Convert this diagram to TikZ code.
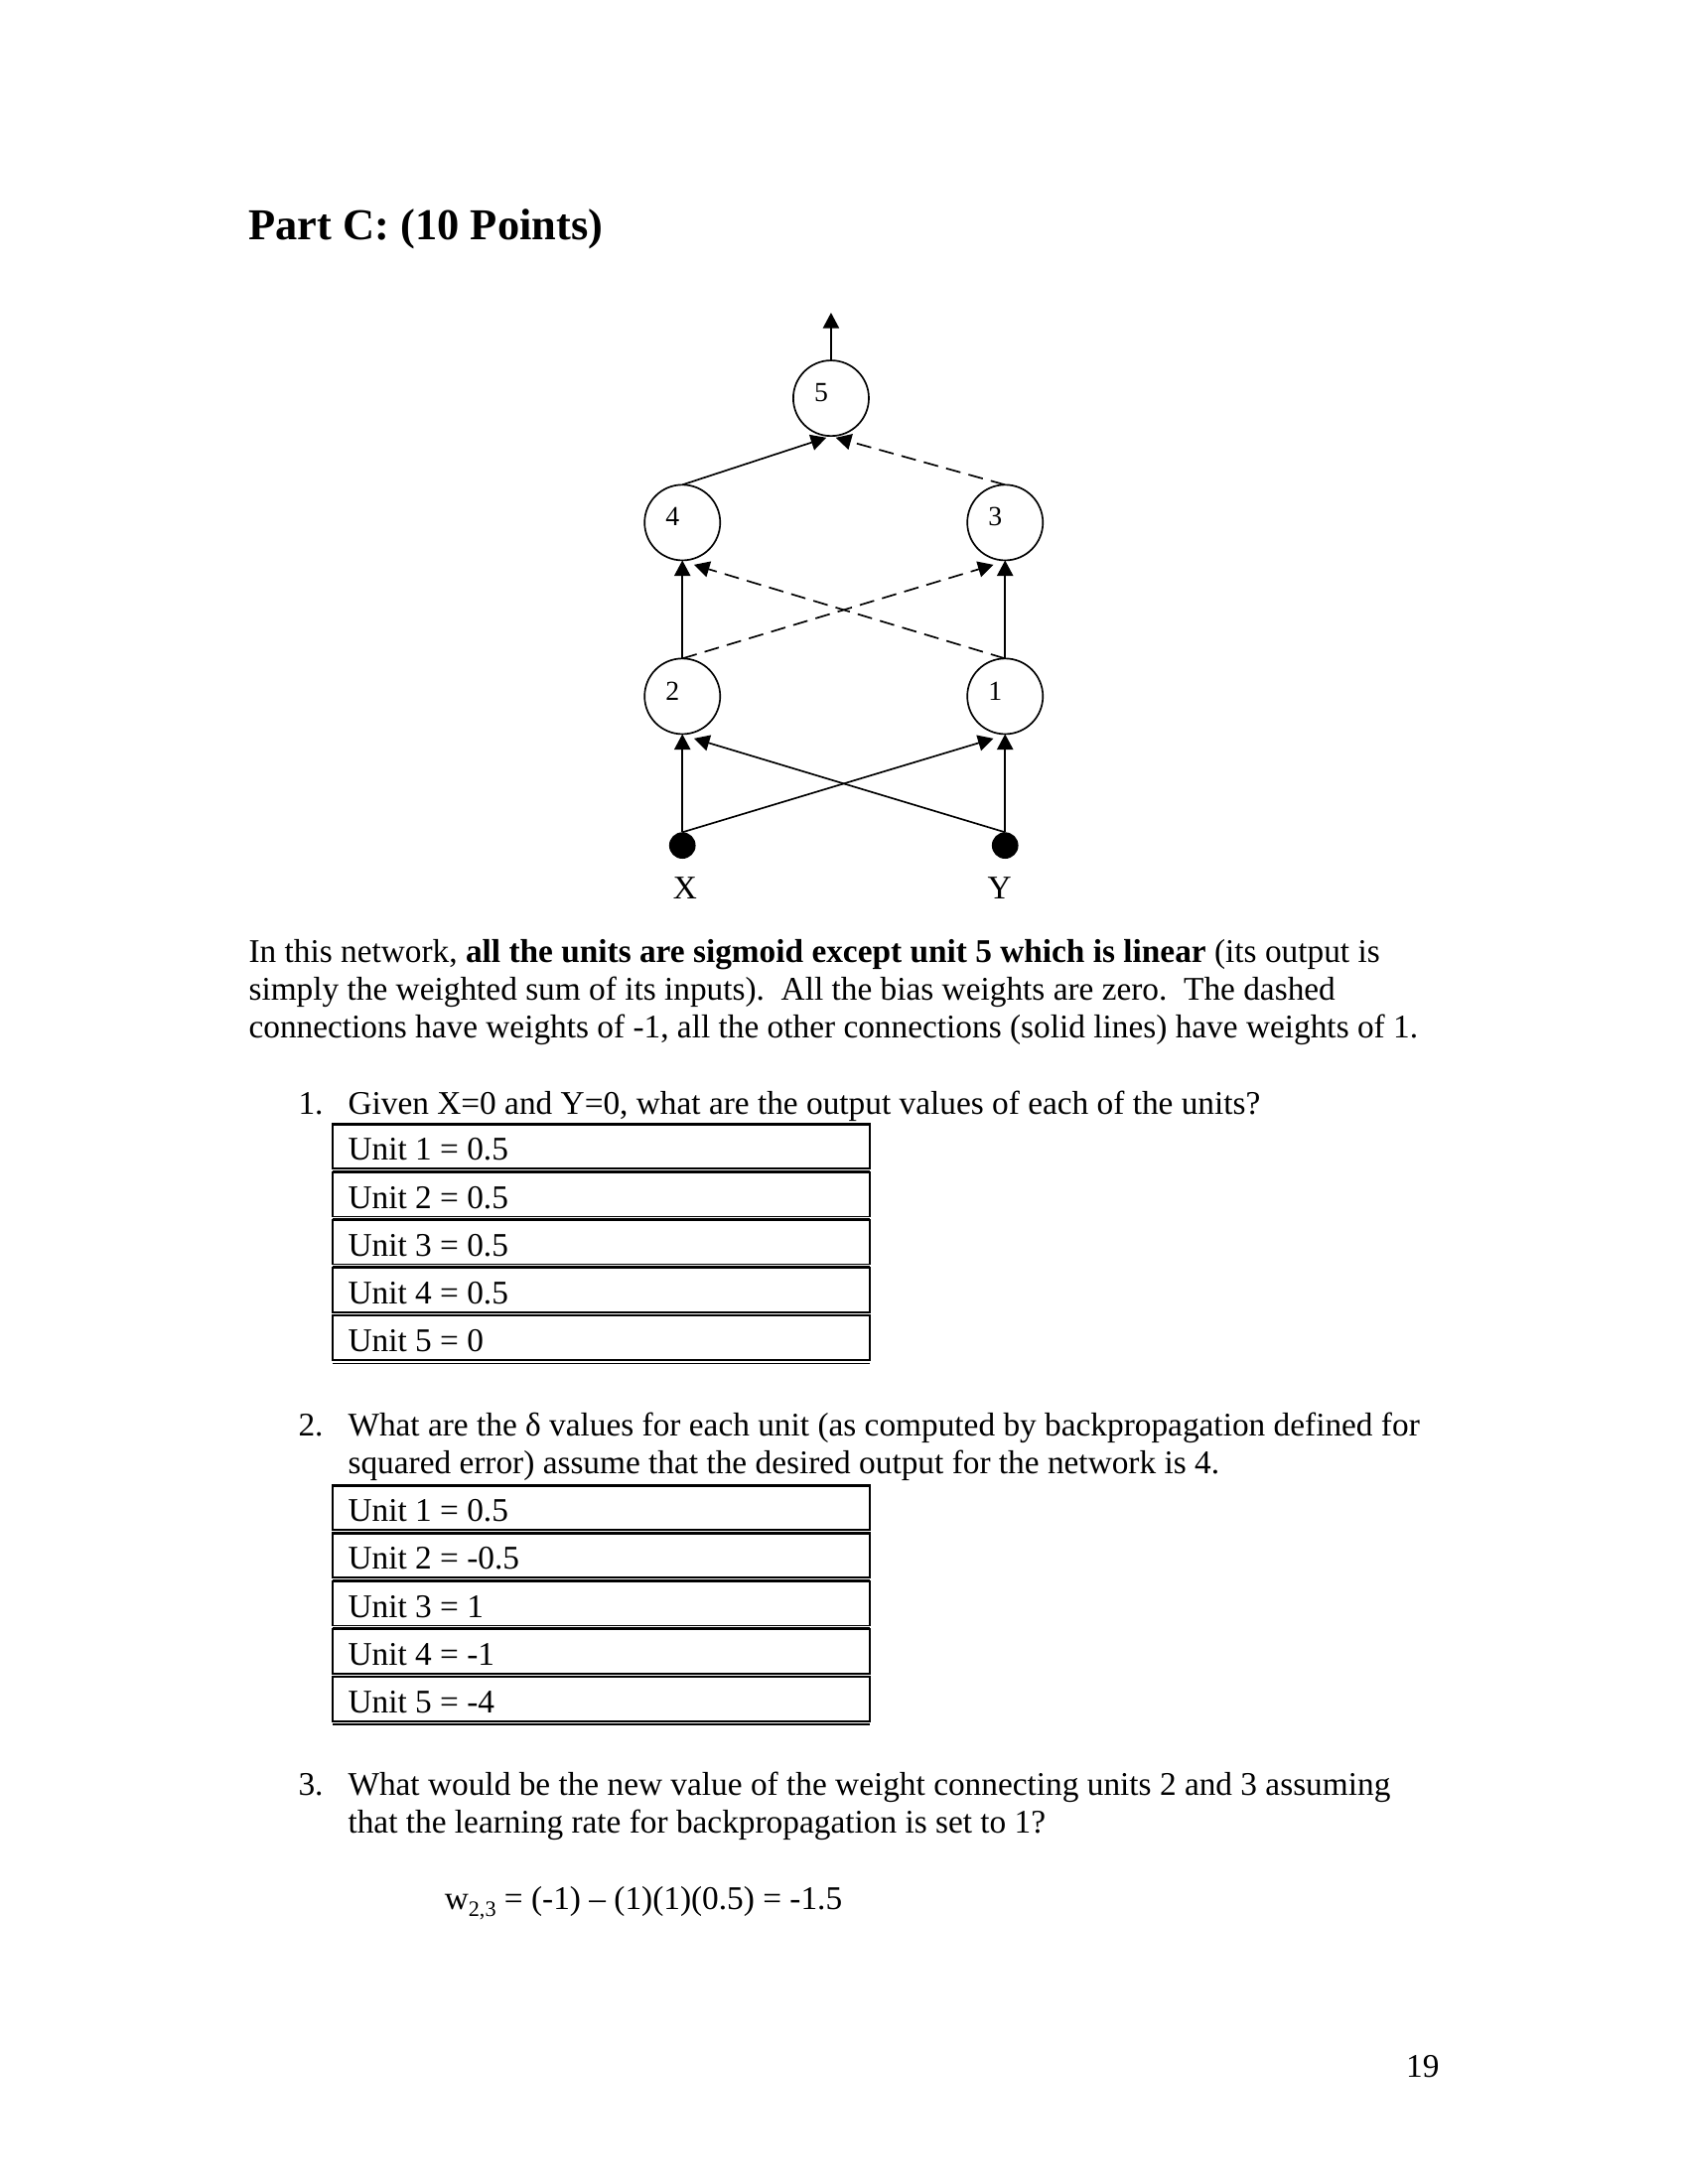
\documentclass[tikz,border=0pt]{standalone}
\usepackage{fontspec}
\setmainfont{Liberation Serif}
\usetikzlibrary{arrows.meta}

\tikzset{
  unit/.style={circle, draw, line width=0.6pt, minimum size=27.4pt, inner sep=0pt, outer sep=0pt},
  num/.style={font=\fontsize{10}{12}\selectfont, inner sep=0pt, xshift=-3.6pt, yshift=2pt},
  input/.style={circle, fill=black, minimum size=9.6pt, inner sep=0pt, outer sep=0pt},
  wpos/.style={line width=0.6pt, -{Triangle[length=5.6pt,width=5.8pt]}},
  wneg/.style={wpos, dash pattern=on 5.4pt off 3pt},
  txt/.style={anchor=base west, inner sep=0pt, font=\fontsize{12}{13.8}\selectfont},
  cell/.style={draw, line width=0.6pt, anchor=north west, inner sep=0pt, outer sep=0pt,
    minimum width=194.8pt, minimum height=16.2pt},
  celltop/.style={line width=1pt},
}

\begin{document}
\begin{tikzpicture}[x=1pt,y=-1pt]
  \path[fill=white,use as bounding box] (0,0) rectangle (612,792);

  \node[txt, font=\fontsize{16}{19}\selectfont\bfseries] (title) at (90,87) {Part C: (10 Points)};

  % network
  \node[unit, label={[num]center:5}] (n5) at (301.3,144.4) {};
  \node[unit, label={[num]center:4}] (n4) at (247.4,189.5) {};
  \node[unit, label={[num]center:3}] (n3) at (364.4,189.5) {};
  \node[unit, label={[num]center:2}] (n2) at (247.4,252.5) {};
  \node[unit, label={[num]center:1}] (n1) at (364.4,252.5) {};
  \node[input] (x) at (247.4,306.6) {};
  \node[input] (y) at (364.4,306.6) {};
  \node[txt, anchor=base] (xl) at (248.4,325.9) {X};
  \node[txt, anchor=base] (yl) at (362.4,325.9) {Y};
  \coordinate (out) at (301.3,113.4);

  \draw[wpos] (n5.north) -- (out);
  \draw[wpos] (n4.north) -- ([xshift=-1.7pt,yshift=-0.6pt]n5.south);
  \draw[wneg] (n3.north) -- ([xshift=1.7pt,yshift=-0.6pt]n5.south);
  \draw[wpos] (n2.north) -- (n4.south);
  \draw[wpos] (n1.north) -- (n3.south);
  \draw[wneg] (n2.north) -- ([xshift=-4.2pt,yshift=-1.6pt]n3.south);
  \draw[wneg] (n1.north) -- ([xshift=4.2pt,yshift=-1.6pt]n4.south);
  \draw[wpos] (x.north) -- (n2.south);
  \draw[wpos] (y.north) -- (n1.south);
  \draw[wpos] (x.north) -- ([xshift=-4.2pt,yshift=-1.6pt]n1.south);
  \draw[wpos] (y.north) -- ([xshift=4.2pt,yshift=-1.6pt]n2.south);

  % text
  \node[txt] (p1) at (90,349) {In this network, \textbf{all the units are sigmoid except unit 5 which is linear} (its output is};
  \node[txt] (p2) at (90,362.8) {simply the weighted sum of its inputs).\ \ All the bias weights are zero.\ \ The dashed};
  \node[txt] (p3) at (90,376.4) {connections have weights of -1, all the other connections (solid lines) have weights of 1.};

  \node[txt] (q1n) at (108,404.2) {1.};
  \node[txt] (q1) at (126,404.2) {Given X=0 and Y=0, what are the output values of each of the units?};
  \foreach \v [count=\i] in {0.5,0.5,0.5,0.5,0} {
    \node[cell] (a\i) at (120.6,{407.6+(\i-1)*17.35}) {};
    \draw[celltop] (a\i.north west) -- (a\i.north east);
    \node[txt] (ta\i) at ([xshift=5.4pt,yshift=-13.2pt]a\i.north west) {Unit \i{} = \v};
  }
  \draw[line width=0.4pt] ([yshift=-1.1pt]a5.south west) -- ([yshift=-1.1pt]a5.south east);

  \node[txt] (q2n) at (108,520.8) {2.};
  \node[txt] (q2) at (126,520.8) {What are the δ values for each unit (as computed by backpropagation defined for};
  \node[txt] (q2b) at (126,534.4) {squared error) assume that the desired output for the network is 4.};
  \foreach \v [count=\i] in {0.5,-0.5,1,-1,-4} {
    \node[cell] (b\i) at (120.6,{538.6+(\i-1)*17.35}) {};
    \draw[celltop] (b\i.north west) -- (b\i.north east);
    \node[txt] (tb\i) at ([xshift=5.4pt,yshift=-13.2pt]b\i.north west) {Unit \i{} = \v};
  }
  \draw[line width=0.4pt] ([yshift=-1.1pt]b5.south west) -- ([yshift=-1.1pt]b5.south east);

  \node[txt] (q3n) at (108,651) {3.};
  \node[txt] (q3) at (126,651) {What would be the new value of the weight connecting units 2 and 3 assuming};
  \node[txt] (q3b) at (126,664.8) {that the learning rate for backpropagation is set to 1?};
  \node[txt] (w23) at (161,692.4) {w\raisebox{-2.4pt}{\fontsize{8}{8}\selectfont 2,3} = (-1) \textendash{} (1)(1)(0.5) = -1.5};

  \node[txt, anchor=base east] (page) at (522,753.4) {19};
\end{tikzpicture}
\end{document}
